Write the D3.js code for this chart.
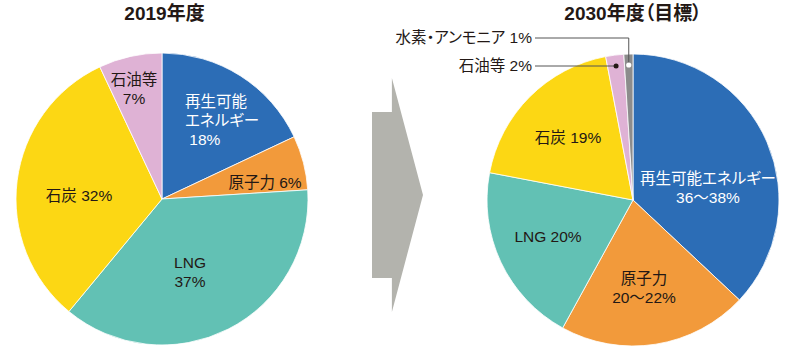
<!DOCTYPE html>
<html><head><meta charset="utf-8">
<script src="https://cdn.jsdelivr.net/npm/d3@7/dist/d3.min.js"></script>
<style>
html,body{margin:0;padding:0;background:#fff;}
text{font-family:"Liberation Sans","Noto Sans CJK JP",sans-serif;font-feature-settings:"palt";}
</style></head>
<body><svg id="c" width="800" height="357"></svg>
<script>
// ---- data ----
const categories2019 = ["再生可能エネルギー","原子力","LNG","石炭","石油等"];
const values2019 = [18,6,37,32,7];
const labels2019 = [["再生可能","エネルギー"," 18%"],["原子力 6%"],["LNG","37%"],["石炭 32%"],["石油等","7%"]];

const categories2030 = ["再生可能エネルギー","原子力","LNG","石炭","石油等","水素・アンモニア"];
const values2030 = [37,21,20,19,2,1];
const labels2030 = [["再生可能エネルギー","36〜38%"],["原子力","20〜22%"],["LNG 20%"],["石炭 19%"],["石油等 2%"],["水素・アンモニア 1%"]];

const titles = ["2019年度","2030年度（目標）"];

// ---- styles / layout ----
const colors = {"再生可能エネルギー":"#2c6db6","原子力":"#f29a3b","LNG":"#62c1b4","石炭":"#fcd714","石油等":"#dfb2d5","水素・アンモニア":"#8c8c8c"};
const textColor = {"再生可能エネルギー":"#ffffff"};
const svg = d3.select("#c");
const R = 146;
const FS = 15.5;

const charts = [
  {cx:162, cy:199, cats:categories2019, vals:values2019, labels:labels2019, title:titles[0], tx:164.5,
   pos:[[23,-92,"start"],[103,-11,"middle"],[28,69,"middle"],[-83,2,"middle"],[-28,-114,"middle"]]},
  {cx:633, cy:200, cats:categories2030, vals:values2030, labels:labels2030, title:titles[1], tx:633,
   pos:[[75,-16,"middle"],[11,84,"middle"],[-85,42,"middle"],[-65,-57,"middle"],null,null]}
];

const pie = d3.pie().sort(null).value(d=>d);
const arc = d3.arc().innerRadius(0).outerRadius(R);

charts.forEach((ch,ci)=>{
  const g = svg.append("g").attr("transform",`translate(${ch.cx},${ch.cy})`);
  const arcs = pie(ch.vals);
  g.selectAll("path").data(arcs).enter().append("path")
    .attr("d",arc)
    .attr("fill",(d,i)=>colors[ch.cats[i]])
    .attr("stroke","#fff").attr("stroke-width",0.8);

  svg.append("text").attr("x",ch.tx).attr("y",20).attr("text-anchor","middle")
    .attr("font-size",19).attr("font-weight","bold").attr("fill","#231815").text(ch.title);

  arcs.forEach((a,i)=>{
    const p = ch.pos[i];
    if(!p) return;
    const t = g.append("text").attr("text-anchor",p[2]).attr("font-size",FS)
      .attr("fill",textColor[ch.cats[i]]||"#231815");
    ch.labels[i].forEach((ln,li)=>{
      t.append("tspan").attr("x",p[0]).attr("y",p[1]+li*19).attr("xml:space","preserve").text(ln);
    });
  });
});

// callouts for small slices in 2030 chart
(function(){
  const ch = charts[1];
  const arcs = pie(ch.vals);
  const g = svg.append("g").attr("transform",`translate(${ch.cx},${ch.cy})`);
  const rr = R*0.925;
  const aOil = arcs[4], mOil = (aOil.startAngle+aOil.endAngle)/2;
  const oilPt = [Math.sin(mOil)*rr, -Math.cos(mOil)*rr];
  const aH = arcs[5], mH = (aH.startAngle+aH.endAngle)/2;
  const hPt = [Math.sin(mH)*rr, -Math.cos(mH)*rr];
  const lineColor = "#555";
  g.append("polyline").attr("points",`${-98},${oilPt[1]} ${oilPt[0]},${oilPt[1]}`)
    .attr("fill","none").attr("stroke",lineColor).attr("stroke-width",1);
  g.append("polyline").attr("points",`${-98},${-162} ${hPt[0]},${-162} ${hPt[0]},${hPt[1]}`)
    .attr("fill","none").attr("stroke",lineColor).attr("stroke-width",1);
  g.append("circle").attr("cx",oilPt[0]).attr("cy",oilPt[1]).attr("r",2.5).attr("fill","#231815");
  g.append("circle").attr("cx",hPt[0]).attr("cy",hPt[1]).attr("r",2.6).attr("fill","#fff");
  g.append("text").attr("x",-101).attr("y",oilPt[1]+5).attr("text-anchor","end").attr("font-size",FS)
    .attr("fill","#231815").text(ch.labels[4][0]);
  g.append("text").attr("x",-101).attr("y",-157).attr("text-anchor","end").attr("font-size",FS)
    .attr("fill","#231815").text(ch.labels[5][0]);
})();

// arrow
const ax = d3.scaleLinear().domain([0,1]).range([372,423]);
const ay = d3.scaleLinear().domain([-1,1]).range([78,312]);
const arrowPts = [[0,-0.71],[0.39,-0.71],[0.39,-1],[1,0],[0.39,1],[0.39,0.71],[0,0.71]];
svg.append("path").attr("d",d3.line().x(d=>ax(d[0])).y(d=>ay(d[1]))(arrowPts)+"Z").attr("fill","#b3b3ad");
</script></body></html>
